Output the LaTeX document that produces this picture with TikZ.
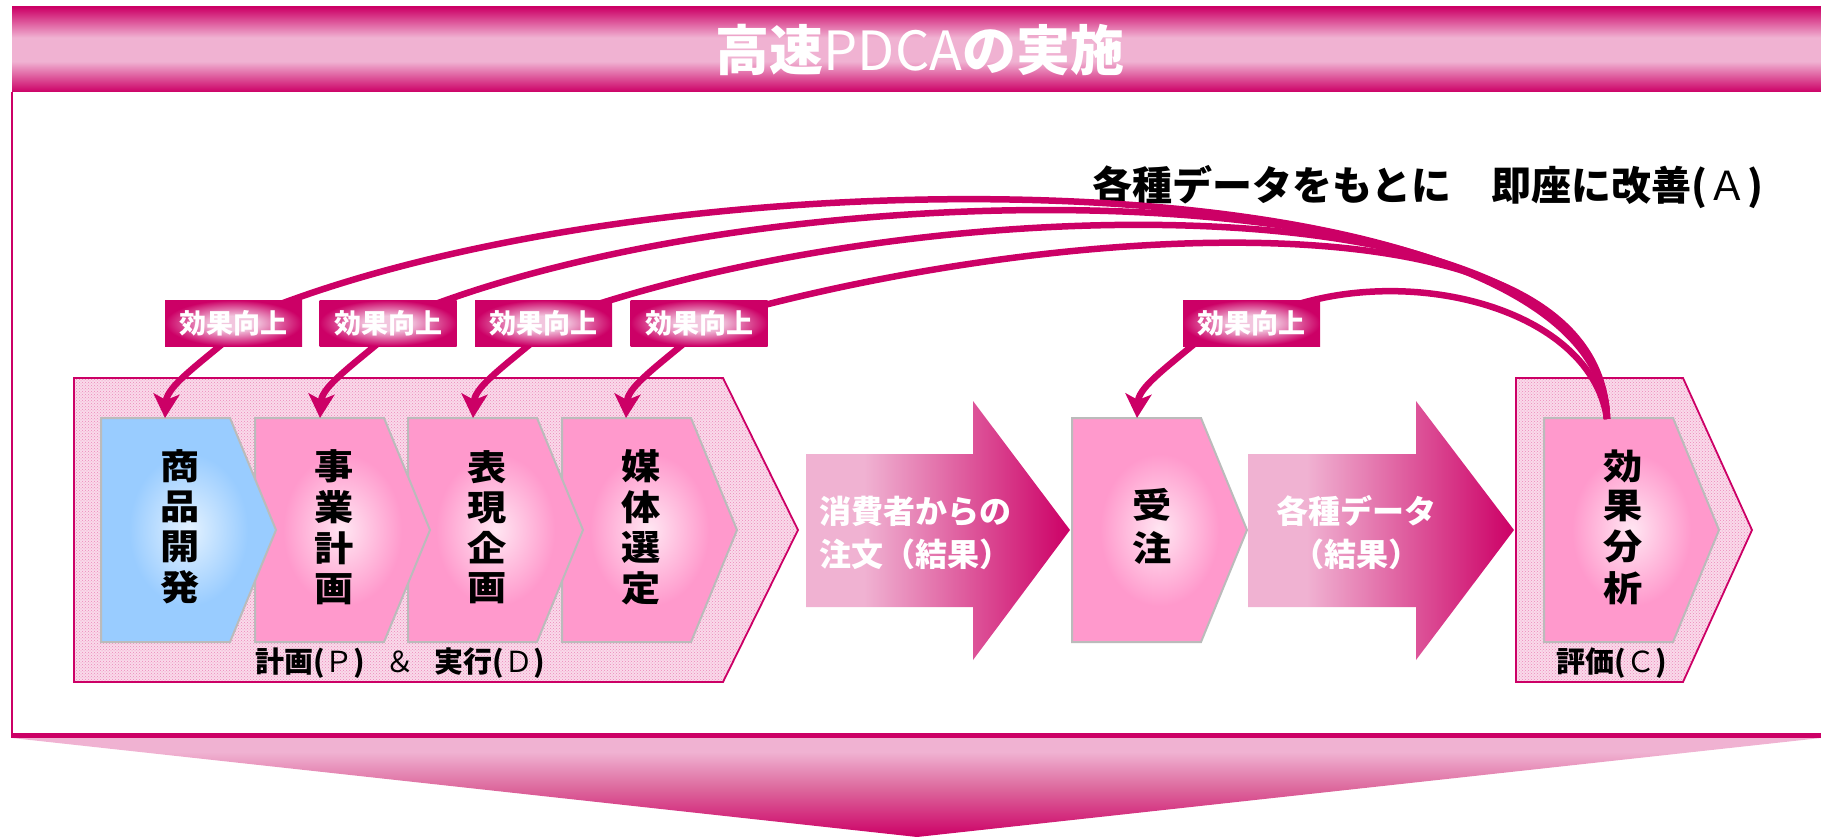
\documentclass[tikz,border=0pt]{standalone}
\usepackage{fontspec}
\setmainfont{Noto Sans CJK JP}
\usepackage{graphicx}
\usetikzlibrary{arrows.meta,calc,patterns}

\definecolor{mag}{HTML}{CC0066}
\definecolor{lpink}{HTML}{F0B2D2}
\definecolor{mpink}{HTML}{DD6A9E}
\definecolor{labc}{HTML}{F2C6DE}
\definecolor{boxpink}{HTML}{FF99CC}
\definecolor{boxpinkc}{HTML}{FFE6F2}
\definecolor{boxblue}{HTML}{99CCFF}
\definecolor{boxbluec}{HTML}{E4F2FF}
\definecolor{boxgray}{HTML}{BBBBBB}
\definecolor{bgpink}{HTML}{FADAEA}
\definecolor{dotpink}{HTML}{EC88BA}

\pgfdeclareverticalshading{barsh}{100bp}{color(0bp)=(mag); color(25bp)=(mag); color(43bp)=(lpink); color(57bp)=(lpink); color(75bp)=(mag); color(100bp)=(mag)}
\pgfdeclareverticalshading{trish}{100bp}{color(0bp)=(mag); color(25bp)=(mag); color(50bp)=(mpink); color(68bp)=(lpink); color(75bp)=(lpink); color(100bp)=(lpink)}
\pgfdeclarehorizontalshading{arrsh}{100bp}{color(0bp)=(lpink); color(25bp)=(lpink); color(36bp)=(lpink); color(75bp)=(mag); color(100bp)=(mag)}
\pgfdeclareradialshading{labsh}{\pgfpoint{0bp}{0bp}}{color(0bp)=(labc); color(8bp)=(labc); color(25bp)=(mag); color(50bp)=(mag)}
\pgfdeclareradialshading{pinksh}{\pgfpoint{0bp}{0bp}}{color(0bp)=(boxpinkc); color(17bp)=(boxpink); color(50bp)=(boxpink)}
\pgfdeclareradialshading{bluesh}{\pgfpoint{0bp}{0bp}}{color(0bp)=(boxbluec); color(17bp)=(boxblue); color(50bp)=(boxblue)}

\newcommand\vstack[1]{\scalebox{1.12}[1]{\begin{tabular}{@{}c@{}}#1\end{tabular}}}

\begin{document}
\begin{tikzpicture}[x=1pt,y=-1pt,
  curve/.style={draw=mag, line width=6.5pt},
  arrowc/.style={curve, -{Stealth[length=24pt,width=26pt,inset=6pt]}},
  lab/.style={shade, shading=labsh, minimum width=137pt, minimum height=46pt, inner sep=0pt, text=white, font=\fontsize{27}{27}\selectfont\bfseries},
  boxtxt/.style={align=center, inner sep=0pt, font=\fontsize{35}{37.5}\selectfont\bfseries},
  arrtxt/.style={align=center, inner sep=0pt, text=white, font=\fontsize{32}{43}\selectfont\bfseries},
  grptxt/.style={inner sep=0pt, font=\fontsize{29}{29}\selectfont\bfseries},
  grp/.style={preaction={fill=bgpink}, pattern=crosshatch dots, pattern color=dotpink, draw=mag, line width=1.8pt},
  boxsh/.style={shade, shading=#1, draw=boxgray, line width=2pt},
  bigarrow/.style={shade, shading=arrsh}]
\useasboundingbox (0,0) rectangle (1821,837);

% title bar and frame
\path[shade, shading=barsh] (12,7) rectangle (1840,92);
\node[font=\fontsize{54}{54}\selectfont\bfseries, text=white, inner sep=0pt] (title) at (920,50) {高速{\mdseries PDCA}の実施};
\draw[mag, line width=2pt] (12,92) -- (12,736);
\draw[mag, line width=5pt] (11,735.5) -- (1840,735.5);
\path[shade, shading=trish] (12,738) -- (1821,738) -- (917,837) -- cycle;

% heading
\node[font=\fontsize{40}{40}\selectfont\bfseries, inner sep=0pt] (head) at (1428,187) {各種データをもとに　即座に改善({\mdseries Ａ})};

% group backgrounds
\path[grp] (74,378) -- (723,378) -- (798,530) -- (723,682) -- (74,682) -- cycle;
\path[grp] (1516,378) -- (1683,378) -- (1752,530) -- (1683,682) -- (1516,682) -- cycle;

% big arrows
\path[bigarrow] (806,454) -- (973,454) -- (973,401) -- (1070,530) -- (973,660) -- (973,607) -- (806,607) -- cycle;
\path[bigarrow] (1248,454) -- (1416,454) -- (1416,401) -- (1514,530) -- (1416,660) -- (1416,607) -- (1248,607) -- cycle;

% boxes (right to left so that each tip lies over the next box)
\foreach \L/\sh in {1544/pinksh,1072/pinksh,562/pinksh,408/pinksh,255/pinksh,101/bluesh}
  \path[boxsh=\sh] (\L,418) -- ++(129,0) -- ++(46,112) -- ++(-46,112) -- ++(-129,0) -- cycle;

% box texts
\node[boxtxt] (b1) at (180,531) {\vstack{商\\品\\開\\発}};
\node[boxtxt] (b2) at (334,531) {\vstack{事\\業\\計\\画}};
\node[boxtxt] (b3) at (487,531) {\vstack{表\\現\\企\\画}};
\node[boxtxt] (b4) at (641,531) {\vstack{媒\\体\\選\\定}};
\node[boxtxt, font=\fontsize{35}{41}\selectfont\bfseries] (b5) at (1152,531) {\vstack{受\\注}};
\node[boxtxt] (b6) at (1623,531) {\vstack{効\\果\\分\\析}};

% arrow texts
\node[arrtxt] (a1) at (915,533) {消費者からの\\注文（結果）};
\node[arrtxt] (a2) at (1356,533) {各種データ\\（結果）};

% group labels
\node[grptxt] (g1) at (400,663) {計画({\mdseries Ｐ})\hspace{20pt}{\mdseries ＆}\hspace{20pt}実行({\mdseries Ｄ})};
\node[grptxt] (g2) at (1612,663) {評価({\mdseries Ｃ})};

% connector points
\coordinate (ea) at (1607,419);
\coordinate (t1) at (165,418);
\coordinate (t2) at (320,418);
\coordinate (t3) at (473,418);
\coordinate (t4) at (626,418);
\coordinate (t5) at (1137,418);
\foreach \i in {1,...,5} \coordinate (s\i) at ($(t\i)+(82,-95)$);

% label positions
\path (233.5,323) coordinate (c1) (388,323) coordinate (c2) (543.5,323) coordinate (c3) (699,323) coordinate (c4) (1251.5,323) coordinate (c5);

% upper curves from effect analysis to labels
\draw[curve] (ea) .. controls (1600,150) and (650,140) .. (c1);
\draw[curve] (ea) .. controls (1600,158) and (760,160) .. (c2);
\draw[curve] (ea) .. controls (1600,168) and (900,188) .. (c3);
\draw[curve] (ea) .. controls (1600,180) and (1040,222) .. (c4);
\draw[curve] (ea) .. controls (1590,300) and (1380,255) .. (c5);

% lower arrows from labels to boxes
\foreach \i in {1,...,5}
  \draw[arrowc] (s\i) .. controls +(-42,37) and +(2,-33) .. (t\i);

% labels
\foreach \i in {1,...,5}
  \node[lab] (l\i) at (c\i) {効果向上};
\end{tikzpicture}
\end{document}
